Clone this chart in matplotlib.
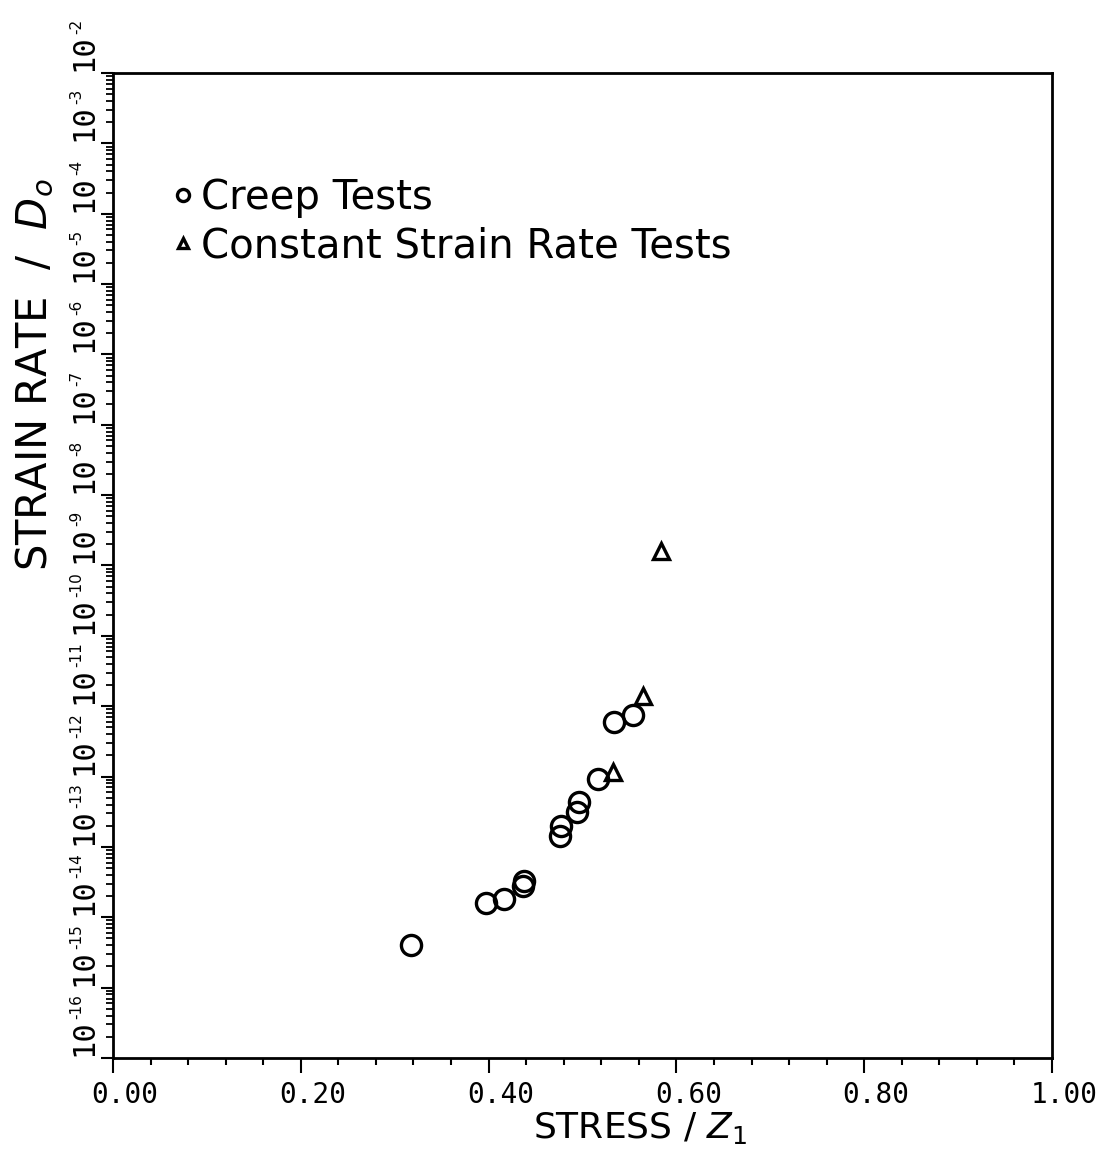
import numpy as np
import matplotlib
matplotlib.use('Agg')
import matplotlib.pyplot as plt
from matplotlib.ticker import LogLocator, MultipleLocator, NullFormatter
from matplotlib.transforms import ScaledTranslation, blended_transform_factory

plt.rcParams['font.family'] = 'DejaVu Sans'
plt.rcParams['mathtext.fontset'] = 'custom'
plt.rcParams['mathtext.it'] = 'DejaVu Sans:italic'

# normalised stress (stress / Z1) and normalised strain rate (rate / D0)
creep_stress = [0.317, 0.397, 0.416, 0.4376, 0.4365, 0.477, 0.476, 0.496, 0.494, 0.5165, 0.5336, 0.554]
creep_rate = [4.1e-15, 1.6e-14, 1.8e-14, 3.3e-14, 2.75e-14, 2.0e-13, 1.45e-13, 4.3e-13, 3.1e-13, 9.1e-13, 6.0e-12, 7.6e-12]
csr_stress = [0.584, 0.5646, 0.5326]
csr_rate = [1.62e-9, 1.38e-11, 1.17e-12]

x_ticks = [0.0, 0.2, 0.4, 0.6, 0.8, 1.0]
x_tick_labels = ['0.00', '0.20', '0.40', '0.60', '0.80', '1.00']
y_exponents = list(range(-16, -1))

fig = plt.figure(figsize=(11.15, 11.55), dpi=100)
ax = fig.add_axes([0.1013, 0.084, 0.8422, 0.8528])

ax.plot(creep_stress, creep_rate, 'o', ms=14.5, mfc='none', mec='black', mew=2.4,
        label='Creep Tests')
ax.plot(csr_stress, csr_rate, '^', ms=12, mfc='none', mec='black', mew=2.4,
        label='Constant Strain Rate Tests')

ax.set_yscale('log')
ax.set_xlim(0, 1)
ax.set_ylim(1e-16, 1e-2)

for s in ax.spines.values():
    s.set_linewidth(2)

# x axis
ax.set_xticks(x_ticks)
ax.set_xticklabels(x_tick_labels, family='DejaVu Sans Mono', fontsize=20)
ax.xaxis.set_minor_locator(MultipleLocator(0.04))
ax.tick_params(axis='x', which='major', length=10.8, width=1.5, pad=6)
ax.tick_params(axis='x', which='minor', length=5, width=1.5)
shift = ScaledTranslation(12 / 100, 0, fig.dpi_scale_trans)
for lbl in ax.get_xticklabels():
    lbl.set_transform(lbl.get_transform() + shift)

# y axis: decade ticks, labels drawn by hand so the exponent stays small
ax.set_yticks([10.0 ** e for e in y_exponents])
ax.yaxis.set_major_formatter(NullFormatter())
ax.yaxis.set_minor_locator(LogLocator(base=10, subs=np.arange(2, 10), numticks=100))
ax.yaxis.set_minor_formatter(NullFormatter())
ax.tick_params(axis='y', which='major', length=9, width=1.5)
ax.tick_params(axis='y', which='minor', length=5, width=1.3)

blend = blended_transform_factory(ax.transAxes, ax.transData)
for e in y_exponents:
    base_tr = blend + ScaledTranslation(-21 / 100, 2 / 100, fig.dpi_scale_trans)
    ax.text(0, 10.0 ** e, '10', transform=base_tr, rotation=90, rotation_mode='anchor',
            ha='left', va='baseline', family='DejaVu Sans Mono', fontsize=22, clip_on=False)
    exp_tr = blend + ScaledTranslation(-32 / 100, 39 / 100, fig.dpi_scale_trans)
    ax.text(0, 10.0 ** e, '-%d' % -e, transform=exp_tr, rotation=90, rotation_mode='anchor',
            ha='left', va='baseline', fontsize=11, clip_on=False)

ax.set_xlabel(r'STRESS / $\mathit{Z}_1$', fontsize=26)
ax.xaxis.set_label_coords(0.561, -0.053)
ax.set_ylabel(r'STRAIN RATE  /  $\mathit{D}_o$', fontsize=30)
ax.yaxis.set_label_coords(-0.061, 0.694)

ax.legend(loc='upper left', bbox_to_anchor=(0.064, 0.893), frameon=False,
          fontsize=29, markerscale=0.6, handlelength=0.5, handletextpad=0.2,
          borderpad=0, borderaxespad=0, labelspacing=0.2)

fig.savefig('out.png', dpi=100)
